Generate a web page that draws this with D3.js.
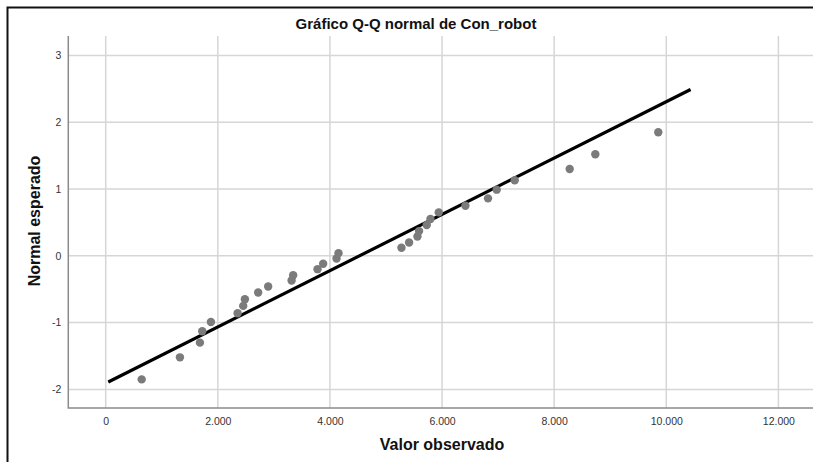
<!DOCTYPE html>
<html>
<head>
<meta charset="utf-8">
<script src="https://cdn.jsdelivr.net/npm/d3@7"></script>
<style>
  html, body { margin: 0; padding: 0; background: #fff; }
  svg { display: block; }
  text { font-family: "Liberation Sans", Arial, sans-serif; }
</style>
</head>
<body>
<svg id="chart" width="813" height="462"></svg>
<script>
// Observed values of Con_robot (sorted) and their expected normal scores
const observed = [642, 1324, 1681, 1722, 1877, 2353, 2453, 2483, 2720, 2898,
                  3316, 3344, 3779, 3879, 4118, 4153, 5276, 5412, 5561, 5590,
                  5727, 5793, 5941, 6417, 6820, 6975, 7296, 8277, 8734, 9857];
const expectedNormal = [-1.85, -1.52, -1.30, -1.13, -0.99, -0.86, -0.75, -0.65, -0.55, -0.46,
                        -0.37, -0.29, -0.20, -0.12, -0.04, 0.04, 0.12, 0.20, 0.29, 0.37,
                        0.46, 0.55, 0.65, 0.75, 0.86, 0.99, 1.13, 1.30, 1.52, 1.85];
// Reference line endpoints (observed value, expected normal)
const refLineX = [46, 10433];
const refLineY = [-1.89, 2.49];
// Axis ticks
const xTicks = [0, 2000, 4000, 6000, 8000, 10000, 12000];
const xTickLabels = ["0", "2.000", "4.000", "6.000", "8.000", "10.000", "12.000"];
const yTicks = [-2, -1, 0, 1, 2, 3];
const yTickLabels = ["-2", "-1", "0", "1", "2", "3"];

const svg = d3.select("#chart");

const x = d3.scaleLinear().domain([0, 12000]).range([105.7, 778.4]);
const y = d3.scaleLinear().domain([-2, 3]).range([389.4, 55.4]);

const plotLeft = 68.3, plotRight = 830, plotTop = 36, plotBottom = 408;

// outer frame
svg.append("path")
  .attr("d", `M7.5,462 L7.5,7.5 L813,7.5`)
  .attr("fill", "none").attr("stroke", "#111").attr("stroke-width", 2);

// title
svg.append("text")
  .attr("x", 416).attr("y", 29)
  .attr("text-anchor", "middle")
  .attr("font-size", 15).attr("font-weight", "bold").attr("fill", "#111")
  .text("Gráfico Q-Q normal de Con_robot");

const grid = svg.append("g");
grid.selectAll("line.v").data(xTicks).join("line")
  .attr("x1", d => x(d)).attr("x2", d => x(d))
  .attr("y1", plotTop).attr("y2", plotBottom)
  .attr("stroke", "#d6d6d6").attr("stroke-width", 1.5);
grid.selectAll("line.h").data(yTicks).join("line")
  .attr("x1", plotLeft).attr("x2", plotRight)
  .attr("y1", d => y(d)).attr("y2", d => y(d))
  .attr("stroke", "#d6d6d6").attr("stroke-width", 1.5);

// axes
const xAxis = d3.axisBottom(x).tickValues(xTicks)
  .tickFormat((d, i) => xTickLabels[i]).tickSize(0).tickPadding(10);
const gx = svg.append("g").attr("transform", `translate(0,${plotBottom})`).call(xAxis);
gx.select(".domain").remove();
gx.selectAll("text").attr("font-size", 10.5).attr("fill", "#333")
  .style("font-family", '"Liberation Sans", Arial, sans-serif');

const yAxis = d3.axisLeft(y).tickValues(yTicks)
  .tickFormat((d, i) => yTickLabels[i]).tickSize(0).tickPadding(7);
const gy = svg.append("g").attr("transform", `translate(${plotLeft},0)`).call(yAxis);
gy.select(".domain").remove();
gy.selectAll("text").attr("font-size", 10.5).attr("fill", "#333")
  .style("font-family", '"Liberation Sans", Arial, sans-serif');

svg.append("path")
  .attr("d", `M${plotLeft},${plotTop} L${plotLeft},${plotBottom} L${plotRight},${plotBottom}`)
  .attr("fill", "none").attr("stroke", "#8a8a8a").attr("stroke-width", 1.5);

// axis titles
svg.append("text")
  .attr("x", 442).attr("y", 450)
  .attr("text-anchor", "middle")
  .attr("font-size", 16).attr("font-weight", "bold").attr("fill", "#111")
  .text("Valor observado");
svg.append("text")
  .attr("transform", "translate(40,221) rotate(-90)")
  .attr("text-anchor", "middle")
  .attr("font-size", 16).attr("font-weight", "bold").attr("fill", "#111")
  .text("Normal esperado");

// reference line
svg.append("line")
  .attr("x1", x(refLineX[0])).attr("y1", y(refLineY[0]))
  .attr("x2", x(refLineX[1])).attr("y2", y(refLineY[1]))
  .attr("stroke", "#000").attr("stroke-width", 3.2);

// points
const pts = observed.map((v, i) => ({ v, z: expectedNormal[i] }));
svg.append("g").selectAll("circle").data(pts).join("circle")
  .attr("cx", d => x(d.v)).attr("cy", d => y(d.z))
  .attr("r", 4.2).attr("fill", "#7b7b7b");
</script>
</body>
</html>
